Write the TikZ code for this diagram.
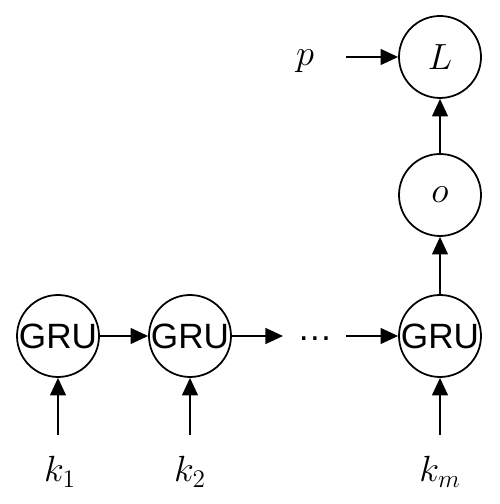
\documentclass[tikz,border=0pt]{standalone}
\usepackage{fontspec}
\newfontfamily\grufont{Liberation Sans}
\usetikzlibrary{arrows.meta}
\begin{document}
\begin{tikzpicture}[x=1cm,y=1cm,
  unit/.style={draw,circle,line width=1pt,minimum size=1.64cm,inner sep=0pt},
  gru/.style={unit,font=\grufont\fontsize{20}{24}\selectfont},
  flow/.style={-{Triangle[length=10pt,width=9pt]},line width=1.1pt},
  lab/.style={font=\fontsize{22}{26}\selectfont}]
\useasboundingbox (0,0) rectangle (9.98,10.08);
% recurrent chain
\node[gru] (g1) at (1.16,3.36) {GRU};
\node[gru] (g2) at (3.8,3.36) {GRU};
\node[gru] (gm) at (8.8,3.36) {GRU};
\node[font=\grufont\fontsize{20}{24}\selectfont] (dots) at (6.3,3.30) {…};
% output and loss
\node[unit,lab] (o) at (8.8,6.18) {$o$};
\node[unit,lab] (L) at (8.8,8.94) {$L$};
\node[lab] (p) at (6.1,8.86) {$p$};
% inputs
\node[lab] (k1) at (1.2,0.64) {$k_1$};
\node[lab] (k2) at (3.8,0.64) {$k_2$};
\node[lab] (km) at (8.8,0.64) {$k_m$};
\coordinate (k1t) at (1.16,1.38);
\coordinate (k2t) at (3.8,1.38);
\coordinate (kmt) at (8.8,1.38);
\coordinate (d1) at (5.66,3.36);
\coordinate (d2) at (6.92,3.36);
\coordinate (pt) at (6.92,8.94);
\draw[flow] (k1t) -- (g1);
\draw[flow] (k2t) -- (g2);
\draw[flow] (kmt) -- (gm);
\draw[flow] (g1) -- (g2);
\draw[flow] (g2) -- (d1);
\draw[flow] (d2) -- (gm);
\draw[flow] (gm) -- (o);
\draw[flow] (o) -- (L);
\draw[flow] (pt) -- (L);
\end{tikzpicture}
\end{document}
